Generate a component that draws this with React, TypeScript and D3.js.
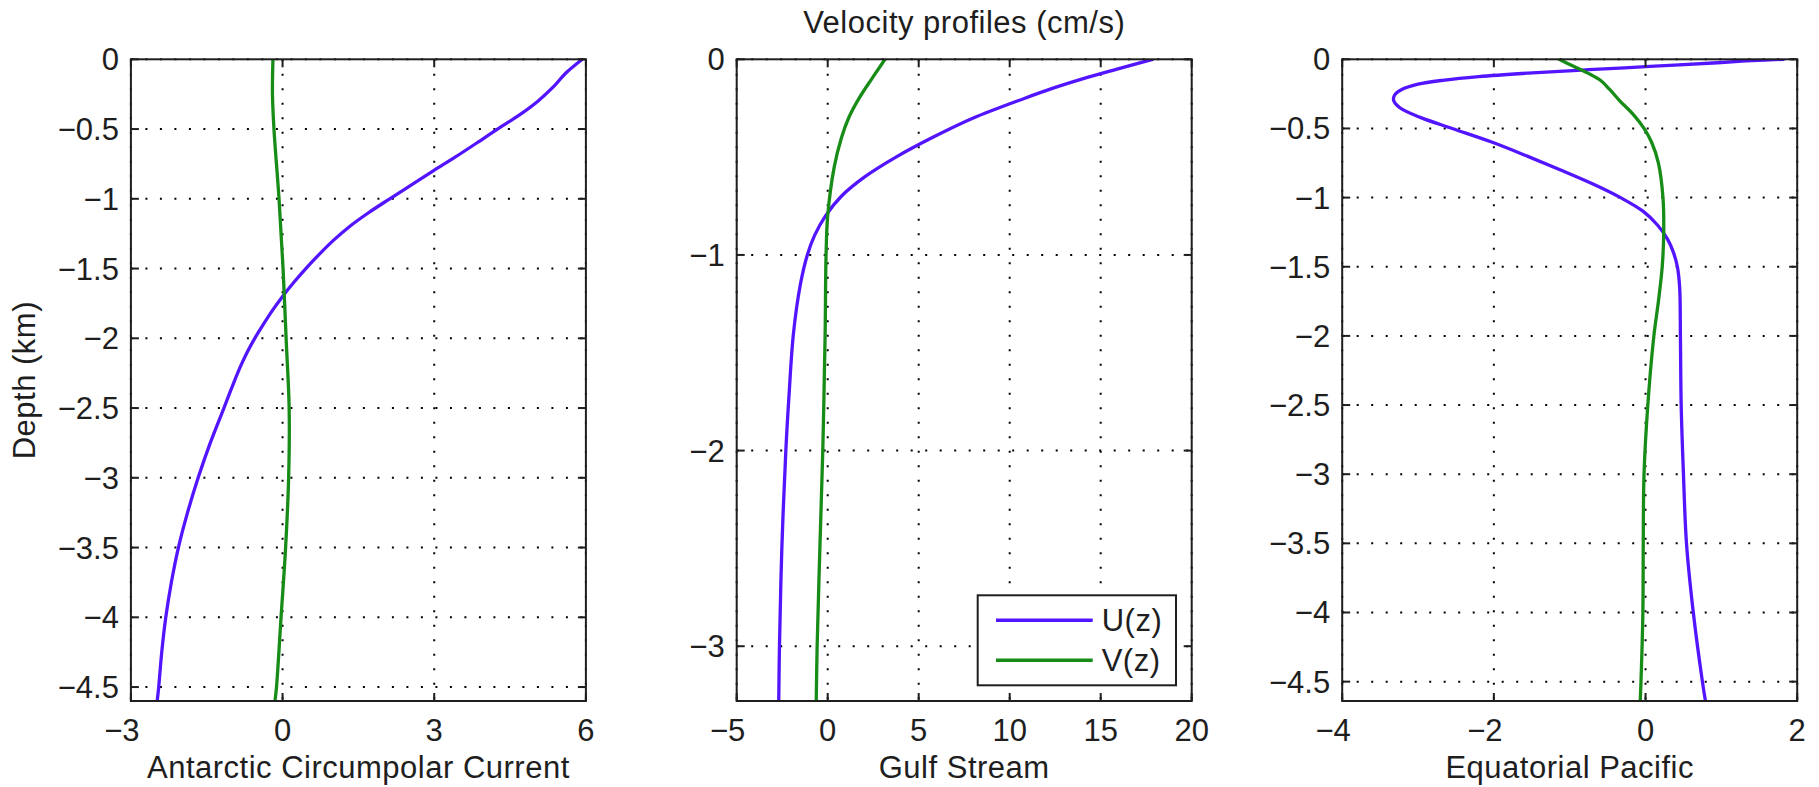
import React from 'react';
import * as d3 from 'd3';

const W = 1819;
const H = 787;

// Antarctic Circumpolar Current (depth in km, velocity in cm/s)
const accUDepth = [0, -0.1, -0.2, -0.3, -0.4, -0.5, -0.6, -0.7, -0.8, -0.9, -1.0, -1.1, -1.2, -1.3, -1.4, -1.5, -1.6, -1.7, -1.8, -1.9, -2.0, -2.1, -2.2, -2.35, -2.5, -2.75, -3.0, -3.25, -3.5, -3.75, -4.0, -4.25, -4.5, -4.6];
const accU = [5.93, 5.6, 5.35, 5.05, 4.68, 4.25, 3.84, 3.42, 2.98, 2.55, 2.12, 1.7, 1.32, 1.0, 0.72, 0.46, 0.22, 0.0, -0.2, -0.38, -0.55, -0.7, -0.83, -1.0, -1.16, -1.43, -1.67, -1.88, -2.06, -2.2, -2.31, -2.39, -2.45, -2.48];
const accVDepth = [0, -0.25, -0.5, -1.0, -1.5, -2.0, -2.5, -3.0, -3.5, -4.0, -4.5, -4.6];
const accV = [-0.19, -0.2, -0.17, -0.07, 0.01, 0.07, 0.13, 0.12, 0.06, -0.03, -0.12, -0.15];

// Gulf Stream
const gsUDepth = [0, -0.05, -0.1, -0.15, -0.2, -0.3, -0.4, -0.5, -0.6, -0.7, -0.8, -0.9, -1.0, -1.15, -1.4, -1.74, -2.0, -2.5, -3.0, -3.28];
const gsU = [17.85, 15.9, 14.0, 12.3, 10.8, 8.0, 5.75, 3.75, 2.05, 0.75, -0.12, -0.72, -1.12, -1.5, -1.88, -2.14, -2.3, -2.52, -2.65, -2.69];
const gsVDepth = [0, -0.1, -0.2, -0.3, -0.4, -0.55, -0.8, -1.0, -1.4, -1.74, -2.0, -2.5, -3.0, -3.28];
const gsV = [3.15, 2.42, 1.72, 1.15, 0.76, 0.36, 0.0, -0.09, -0.14, -0.21, -0.27, -0.43, -0.58, -0.63];

// Equatorial Pacific
const epUDepth = [0, -0.01, -0.025, -0.05, -0.075, -0.1, -0.125, -0.15, -0.18, -0.22, -0.26, -0.3, -0.35, -0.42, -0.5, -0.6, -0.7, -0.8, -0.9, -1.0, -1.1, -1.2, -1.3, -1.4, -1.5, -1.65, -2.0, -2.5, -3.0, -3.5, -4.0, -4.5, -4.64];
const epU = [1.82, 1.4, 0.95, 0.12, -0.75, -1.55, -2.2, -2.65, -3.0, -3.22, -3.31, -3.32, -3.24, -2.97, -2.55, -2.02, -1.56, -1.12, -0.7, -0.33, -0.03, 0.16, 0.29, 0.37, 0.42, 0.45, 0.46, 0.47, 0.5, 0.54, 0.63, 0.75, 0.79];
const epVDepth = [0, -0.05, -0.1, -0.15, -0.22, -0.3, -0.4, -0.5, -0.6, -0.75, -1.0, -1.25, -1.5, -1.75, -2.0, -2.5, -3.0, -3.5, -4.0, -4.5, -4.64];
const epV = [-1.14, -0.95, -0.76, -0.6, -0.47, -0.34, -0.16, -0.02, 0.08, 0.17, 0.23, 0.24, 0.22, 0.17, 0.11, 0.03, -0.02, -0.03, -0.035, -0.06, -0.07];

// Axis ticks and titles
const accXTicks = [-3, 0, 3, 6];
const gsXTicks = [-5, 0, 5, 10, 15, 20];
const epXTicks = [-4, -2, 0, 2];
const halfKmTicks = [0, -0.5, -1, -1.5, -2, -2.5, -3, -3.5, -4, -4.5];
const kmTicks = [0, -1, -2, -3];
const panelTitles = ['Antarctic Circumpolar Current', 'Gulf Stream', 'Equatorial Pacific'];
const seriesNames = ['U(z)', 'V(z)'];
const figureTitle = 'Velocity profiles (cm/s)';
const yAxisTitle = 'Depth (km)';

const U_COLOR = '#5314ff';
const V_COLOR = '#178c17';
const INK = '#1e1e1e';
const FONT = '"Liberation Sans", Arial, Helvetica, sans-serif';
const FS = 31;

const TOP = 59.3;
const BOTTOM = 701;
const PANEL_W = 455;
const PANEL_LEFTS = [130.9, 736.7, 1342.2];

type Series = { depth: number[]; vel: number[]; color: string };
type Panel = {
  title: string;
  xDomain: [number, number];
  yMin: number;
  xTicks: number[];
  yTicks: number[];
  series: Series[];
  legend: boolean;
};

const panels: Panel[] = [
  {
    title: panelTitles[0], xDomain: [-3, 6], yMin: -4.6, xTicks: accXTicks, yTicks: halfKmTicks,
    series: [{ depth: accUDepth, vel: accU, color: U_COLOR }, { depth: accVDepth, vel: accV, color: V_COLOR }],
    legend: false,
  },
  {
    title: panelTitles[1], xDomain: [-5, 20], yMin: -3.28, xTicks: gsXTicks, yTicks: kmTicks,
    series: [{ depth: gsUDepth, vel: gsU, color: U_COLOR }, { depth: gsVDepth, vel: gsV, color: V_COLOR }],
    legend: true,
  },
  {
    title: panelTitles[2], xDomain: [-4, 2], yMin: -4.64, xTicks: epXTicks, yTicks: halfKmTicks,
    series: [{ depth: epUDepth, vel: epU, color: U_COLOR }, { depth: epVDepth, vel: epV, color: V_COLOR }],
    legend: false,
  },
];

const fmt = (v: number) => (v < 0 ? '\u2212' + String(Math.abs(v)) : String(v));
const MINUS_HALF = FS * 0.584 / 2;

function ProfilePanel({ p, idx }: { p: Panel; idx: number }) {
  const left = PANEL_LEFTS[idx];
  const right = left + PANEL_W;
  const x = d3.scaleLinear().domain(p.xDomain).range([left, right]);
  const y = d3.scaleLinear().domain([0, p.yMin]).range([TOP, BOTTOM]);
  const clipId = `clip-${idx}`;
  const tickLen = 8;

  const line = (s: Series) =>
    d3
      .line<number>()
      .x((_, i) => x(s.vel[i]))
      .y((d) => y(d))
      .curve(d3.curveCatmullRom.alpha(0.5))(s.depth) || '';

  const lx0 = right - 214;
  const ly0 = 595.3;
  const lw = 198.3;
  const lh = 90;

  return (
    <g>
      <defs>
        <clipPath id={clipId}>
          <rect x={left} y={TOP} width={PANEL_W} height={BOTTOM - TOP} />
        </clipPath>
      </defs>
      <rect x={left} y={TOP} width={PANEL_W} height={BOTTOM - TOP} fill="#fff" />
      {/* dotted grid */}
      {p.xTicks.map((t) => (
        <line key={'gx' + t} x1={x(t)} x2={x(t)} y1={TOP} y2={BOTTOM}
          stroke="#000" strokeWidth={2} strokeDasharray="2 12.5" />
      ))}
      {p.yTicks.map((t) => (
        <line key={'gy' + t} x1={left} x2={right} y1={y(t)} y2={y(t)}
          stroke="#000" strokeWidth={2} strokeDasharray="2 12.5" />
      ))}
      {/* profiles */}
      <g clipPath={`url(#${clipId})`}>
        {p.series.map((s, i) => (
          <path key={i} d={line(s)} fill="none" stroke={s.color} strokeWidth={3.3}
            strokeLinejoin="round" strokeLinecap="round" />
        ))}
      </g>
      {/* legend */}
      {p.legend && (
        <g>
          <rect x={lx0} y={ly0} width={lw} height={lh} fill="#fff" stroke={INK} strokeWidth={2} />
          {p.series.map((s, i) => {
            const ly = ly0 + 25 + i * 40;
            return (
              <g key={i}>
                <line x1={lx0 + 18.3} x2={lx0 + 115} y1={ly} y2={ly} stroke={s.color} strokeWidth={3.5} />
                <text x={lx0 + 124} y={ly + 11} fontSize={FS} fontFamily={FONT} fill={INK} letterSpacing={0.5}>
                  {seriesNames[i]}
                </text>
              </g>
            );
          })}
        </g>
      )}
      {/* box and inward ticks */}
      <rect x={left} y={TOP} width={PANEL_W} height={BOTTOM - TOP} fill="none" stroke={INK} strokeWidth={2} />
      {p.xTicks.map((t) => (
        <g key={'tx' + t}>
          <line x1={x(t)} x2={x(t)} y1={BOTTOM} y2={BOTTOM - tickLen} stroke={INK} strokeWidth={2} />
          <line x1={x(t)} x2={x(t)} y1={TOP} y2={TOP + tickLen} stroke={INK} strokeWidth={2} />
          <text x={t < 0 ? x(t) - MINUS_HALF : x(t)} y={BOTTOM + 39.7} textAnchor="middle"
            fontSize={FS} fontFamily={FONT} fill={INK}>
            {fmt(t)}
          </text>
        </g>
      ))}
      {p.yTicks.map((t) => (
        <g key={'ty' + t}>
          <line x1={left} x2={left + tickLen} y1={y(t)} y2={y(t)} stroke={INK} strokeWidth={2} />
          <line x1={right} x2={right - tickLen} y1={y(t)} y2={y(t)} stroke={INK} strokeWidth={2} />
          <text x={left - 12} y={y(t) + 11} textAnchor="end" fontSize={FS} fontFamily={FONT} fill={INK}>
            {fmt(t)}
          </text>
        </g>
      ))}
      <text x={(left + right) / 2} y={778.3} textAnchor="middle" fontSize={FS} fontFamily={FONT}
        fill={INK} letterSpacing={0.5}>
        {p.title}
      </text>
    </g>
  );
}

export default function App() {
  const mid = PANEL_LEFTS[1] + PANEL_W / 2;
  return (
    <svg width={W} height={H} viewBox={`0 0 ${W} ${H}`}
      style={{ position: 'absolute', left: 0, top: 0, background: '#fff' }}>
      <rect width={W} height={H} fill="#fff" />
      {panels.map((p, i) => (
        <ProfilePanel key={i} p={p} idx={i} />
      ))}
      <text x={mid} y={33.3} textAnchor="middle" fontSize={FS} fontFamily={FONT} fill={INK} letterSpacing={0.5}>
        {figureTitle}
      </text>
      <text transform={`translate(35, ${(TOP + BOTTOM) / 2}) rotate(-90)`} textAnchor="middle"
        fontSize={FS} fontFamily={FONT} fill={INK} letterSpacing={0.5}>
        {yAxisTitle}
      </text>
    </svg>
  );
}
